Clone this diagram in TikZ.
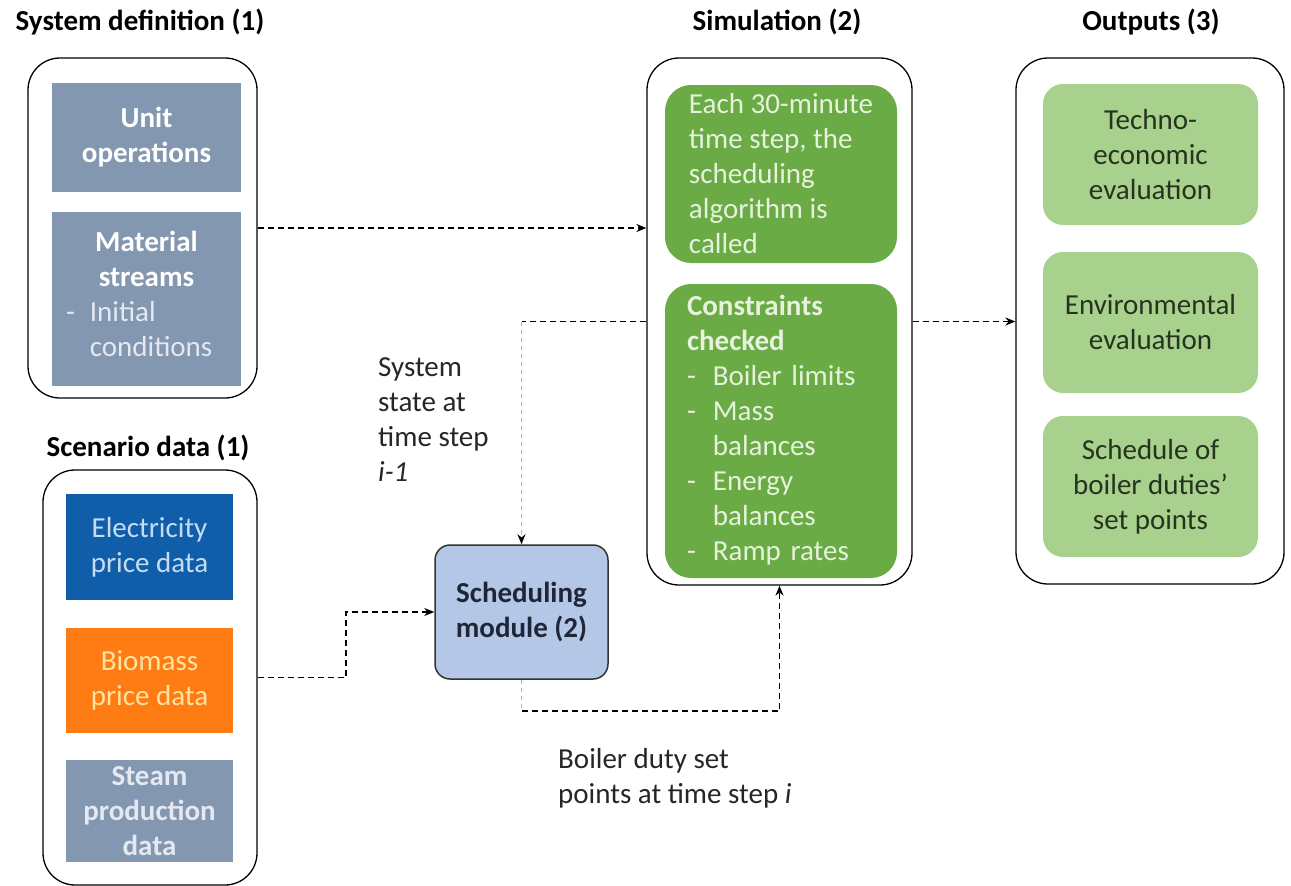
\documentclass[tikz,border=0pt]{standalone}
\usepackage{fontspec}
\setmainfont{Carlito}
\usetikzlibrary{arrows.meta,calc}
\definecolor{slate}{HTML}{8497B0}
\definecolor{eblue}{HTML}{105EA9}
\definecolor{eorange}{HTML}{FF7C14}
\definecolor{ggreen}{HTML}{6AAB45}
\definecolor{lgreen}{HTML}{A9D18E}
\definecolor{schedblue}{HTML}{B4C7E7}
\definecolor{gpale}{HTML}{E6F2DC}
\definecolor{bpale}{HTML}{C5DDF2}
\definecolor{opale}{HTML}{FFE3A0}
\definecolor{spale}{HTML}{E4E9F1}
\definecolor{darktxt}{HTML}{26331E}
\definecolor{navytxt}{HTML}{1E2638}
\newcommand\myfs{\fontsize{29}{35}\selectfont}
\begin{document}
\begin{tikzpicture}[x=1pt,y=-1pt,
  font=\myfs,
  cont/.style={draw=black,line width=1.3pt,rounded corners=32pt,inner sep=0pt},
  sbox/.style={inner sep=0pt,align=center},
  ttl/.style={font=\myfs\bfseries,text=black,inner sep=0pt},
  lab/.style={font=\myfs,text=black!85,align=left,inner sep=0pt},
  arr/.style={draw=black,line width=1.9pt,dash pattern=on 6pt off 4pt,-{Stealth[length=10pt,width=8pt]}},
  dline/.style={draw=black,line width=1.9pt,dash pattern=on 6pt off 4pt},
  gline/.style={draw=black!30,line width=1.9pt,dash pattern=on 4pt off 4pt},
  garr/.style={gline,-{Stealth[length=10pt,width=8pt,color=black]}}
]
\useasboundingbox (0,0) rectangle (1291,886);

% titles
\node[ttl] (t1) at (140,22) {System definition (1)};
\node[ttl] (t2) at (148,448) {Scenario data (1)};
\node[ttl] (t3) at (777,22) {Simulation (2)};
\node[ttl] (t4) at (1151,22) {Outputs (3)};

% containers
\node[cont, minimum width=229pt, minimum height=340pt] (sysc) at (142.5,228) {};
\node[cont, minimum width=214pt, minimum height=415pt] (scenc) at (150,677.5) {};
\node[cont, minimum width=265pt, minimum height=527pt] (simc) at (779.5,321.5) {};
\node[cont, minimum width=268pt, minimum height=526pt] (outc) at (1150,321) {};

% system definition
\node[sbox, fill=slate, text=white, font=\myfs\bfseries, minimum width=189pt, minimum height=109pt] (unit) at (146.5,137.5) {Unit\\operations};
\node[inner sep=0pt, fill=slate, text=white, minimum width=189pt, minimum height=174pt, text width=161pt, align=left] (mat) at (146.5,299)
 {{\centering\bfseries Material\\streams\par}\noindent{\color{spale}\begin{tabular}[t]{@{}l@{\hspace{15pt}}l@{}}-&Initial\\&conditions\end{tabular}}\par};

% scenario data
\node[sbox, fill=eblue, text=bpale, minimum width=167pt, minimum height=106pt] (elec) at (149.5,547) {Electricity\\price data};
\node[sbox, fill=eorange, text=opale, minimum width=167pt, minimum height=105pt] (bio) at (149.5,680.5) {Biomass\\price data};
\node[sbox, fill=slate, text=spale, font=\myfs\bfseries, minimum width=167pt, minimum height=102pt] (steam) at (149.5,811) {Steam\\production\\data};

% simulation
\node[inner sep=0pt, fill=ggreen, text=gpale, rounded corners=26pt, minimum width=232pt, minimum height=178pt, align=left] (each) at (781,174)
 {Each 30-minute\\time step, the\\scheduling\\algorithm is\\called};
\node[inner sep=0pt, fill=ggreen, text=gpale, rounded corners=26pt, minimum width=232pt, minimum height=294pt, text width=188pt, align=left] (cons) at (781,431)
 {\noindent\begin{tabular}[t]{@{}l@{\hspace{17pt}}l@{}}
 \multicolumn{2}{@{}l@{}}{\bfseries Constraints}\\
 \multicolumn{2}{@{}l@{}}{\bfseries checked}\\
 -&Boiler limits\\
 -&Mass\\
 &balances\\
 -&Energy\\
 &balances\\
 -&Ramp rates
 \end{tabular}\par};

% outputs
\node[sbox, fill=lgreen, text=darktxt, rounded corners=20pt, minimum width=215pt, minimum height=141pt] (tech) at (1150.5,154.5) {Techno-\\economic\\evaluation};
\node[sbox, fill=lgreen, text=darktxt, rounded corners=20pt, minimum width=215pt, minimum height=141pt] (env) at (1150.5,322.5) {Environmental\\evaluation};
\node[sbox, fill=lgreen, text=darktxt, rounded corners=20pt, minimum width=215pt, minimum height=141pt] (sched2) at (1150.5,486.5) {Schedule of\\boiler duties'\\set points};

% scheduling module
\node[sbox, fill=schedblue, draw=black!80, line width=1.5pt, rounded corners=15pt, text=navytxt, font=\myfs\bfseries, minimum width=173pt, minimum height=134pt] (sched) at (521.5,612) {Scheduling\\module (2)};

% labels
\node[lab, anchor=west] (lab1) at (378,420) {System\\state at\\time step\\\textit{i-1}};
\node[lab, anchor=west] (lab2) at (558,778) {Boiler duty set\\points at time step \textit{i}};

% connectors
\draw[arr] (sysc.east) -- (sysc.east -| simc.west);
\draw[arr] (simc.east) -- (simc.east -| outc.west);
\draw[arr] (scenc.east) -- ++(88,0) coordinate (k1) |- (sched.west);
\draw[dline] (simc.west) -- (simc.west -| sched.north) coordinate (k2);
\draw[garr] (k2) -- (sched.north);
\draw[gline] (sched.south) -- ++(0,31) coordinate (k3);
\draw[arr] (k3) -| (simc.south);
\end{tikzpicture}
\end{document}
